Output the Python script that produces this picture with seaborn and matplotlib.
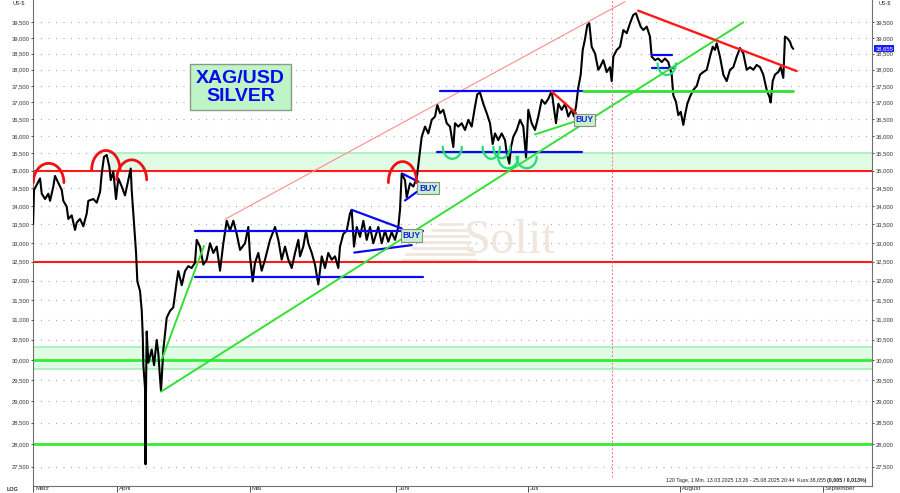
import numpy as np
import pandas as pd
import matplotlib
matplotlib.use('Agg')
import matplotlib.pyplot as plt
import seaborn as sns
from matplotlib.ticker import FixedLocator, NullLocator, FuncFormatter
from matplotlib.transforms import ScaledTranslation, blended_transform_factory

# Handelstage seit 13.03.2025 und Kurs in US-$ (1-Min-Chart)
tage = [0.0, 0.15, 0.57, 1.08, 1.34, 1.85, 2.35, 2.62, 3.12, 3.38, 3.89, 4.42, 4.66, 5.18, 5.43, 5.95,
        6.46, 6.72, 7.23, 7.74, 8.26, 8.51, 9.28, 9.80, 10.31, 10.57, 10.92, 11.34, 11.74, 11.95, 12.35,
        12.77, 13.12, 13.65, 14.15, 14.66, 15.03, 15.18, 15.54, 15.85, 16.05, 16.46, 16.72, 16.88, 16.97,
        17.23, 17.31, 17.37, 17.49, 17.74, 18.26, 18.62, 19.03, 19.28, 19.54, 19.69, 20.05, 20.57, 21.08,
        21.58, 22.11, 22.35, 22.88, 23.38, 23.89, 24.40, 24.92, 25.18, 25.69, 26.20, 26.72, 27.23, 27.74,
        28.26, 28.77, 29.28, 29.80, 30.31, 30.82, 31.34, 31.85, 32.62, 33.12, 33.38, 33.80, 34.15, 34.66,
        35.18, 35.69, 36.46, 37.23, 37.74, 38.26, 38.77, 39.28, 39.80, 40.31, 40.82, 41.08, 41.58, 42.00,
        42.35, 42.88, 43.38, 43.89, 44.42, 44.92, 45.43, 45.95, 46.46, 46.97, 47.23, 47.74, 48.26, 48.77,
        49.03, 49.38, 49.80, 50.31, 50.82, 51.34, 51.85, 52.35, 53.12, 53.65, 54.15, 54.66, 55.18, 55.69,
        56.20, 56.46, 56.72, 57.23, 57.49, 58.00, 58.51, 59.03, 59.54, 59.80, 60.31, 60.82, 61.34, 61.85,
        62.20, 62.62, 63.12, 63.65, 64.15, 64.66, 64.92, 65.43, 65.95, 66.46, 66.97, 67.49, 68.00, 68.35,
        68.77, 69.28, 69.80, 70.31, 70.72, 71.08, 71.58, 72.11, 72.62, 72.88, 73.28, 73.54, 73.89, 74.42,
        74.92, 75.43, 75.85, 76.20, 76.72, 77.23, 77.74, 78.26, 78.77, 79.28, 79.80, 80.05, 80.46, 80.82,
        81.34, 81.85, 82.35, 82.88, 83.23, 83.54, 83.89, 84.26, 84.57, 84.92, 85.28, 85.58, 85.95, 86.46,
        86.97, 87.23, 87.74, 88.26, 88.77, 89.03, 89.28, 89.80, 90.31, 90.82, 91.34, 91.85, 92.35, 92.77,
        93.12, 93.49, 93.89, 94.42, 94.92, 95.18, 95.69, 96.20, 96.72, 97.23, 97.74, 98.26, 98.51, 98.92,
        99.28, 99.65, 100.05, 100.31, 100.66, 101.08, 101.58, 102.11, 102.62, 103.12, 103.65, 104.15,
        104.57, 104.92, 105.18, 105.69, 106.20, 106.72, 107.23, 107.74, 108.26, 108.77, 109.28, 109.80,
        110.31, 110.82, 111.34, 111.85, 112.35, 112.88, 113.28, 113.49, 113.80, 114.15, 114.66, 115.03,
        115.43, 115.69, 116.05, 116.46, 116.72, 116.97]
kurs = [33.52, 34.45, 34.60, 34.78, 34.35, 34.20, 34.35, 34.15, 34.55, 34.85, 34.65, 34.45, 34.15, 33.99,
        33.65, 33.75, 33.35, 33.55, 33.65, 33.45, 33.80, 34.15, 34.20, 34.10, 34.40, 34.92, 35.40, 35.45,
        35.11, 34.73, 34.97, 34.20, 34.78, 34.55, 34.30, 34.73, 35.06, 34.45, 33.53, 32.74, 31.98, 31.73,
        31.24, 30.61, 29.88, 29.32, 27.55, 29.10, 30.70, 29.93, 30.25, 29.87, 30.49, 30.15, 29.55, 29.25,
        30.25, 31.05, 31.22, 31.31, 31.98, 32.25, 31.88, 32.25, 32.38, 32.33, 32.47, 33.08, 32.90, 32.42,
        32.55, 32.99, 32.73, 32.90, 32.26, 32.99, 33.60, 33.33, 33.60, 33.24, 32.81, 32.99, 33.43, 32.64,
        31.98, 32.47, 32.73, 32.26, 32.55, 33.08, 33.43, 33.08, 32.55, 32.90, 32.55, 32.33, 32.73, 33.08,
        32.64, 32.90, 33.33, 32.99, 32.73, 32.42, 31.90, 32.64, 32.33, 32.73, 32.55, 32.64, 32.33, 32.90,
        33.24, 33.33, 33.80, 33.90, 32.90, 33.43, 33.16, 33.60, 33.08, 33.43, 32.99, 33.43, 32.99, 33.33,
        33.03, 33.29, 33.08, 33.43, 33.90, 34.92, 34.73, 34.25, 34.64, 34.55, 34.78, 35.58, 35.98, 36.28,
        36.08, 36.48, 36.58, 36.93, 36.68, 36.78, 36.38, 36.28, 35.68, 36.38, 36.28, 36.38, 36.18, 36.48,
        36.28, 36.88, 37.25, 37.30, 36.96, 36.68, 36.38, 35.77, 36.08, 35.88, 36.08, 35.88, 35.50, 35.20,
        35.68, 35.98, 36.18, 36.48, 36.28, 35.38, 36.78, 36.38, 36.18, 36.58, 37.08, 36.96, 37.11, 37.35,
        36.96, 36.38, 36.96, 36.78, 36.96, 36.58, 36.78, 36.58, 36.88, 37.45, 37.85, 38.62, 38.96, 39.41,
        39.47, 38.72, 38.51, 38.00, 38.08, 38.30, 37.93, 38.08, 37.65, 38.41, 38.62, 38.72, 39.25, 39.15,
        39.47, 39.74, 39.79, 39.57, 39.36, 39.25, 39.36, 39.04, 38.41, 38.30, 38.35, 38.24, 38.35, 38.24,
        37.85, 37.22, 37.02, 36.62, 36.72, 36.33, 36.62, 36.96, 37.18, 37.38, 37.50, 37.85, 37.93, 38.00,
        38.41, 38.72, 38.62, 38.83, 38.41, 37.85, 37.65, 38.00, 38.08, 38.41, 38.68, 38.51, 38.00, 38.08,
        38.00, 38.15, 38.08, 37.85, 37.38, 37.18, 37.00, 37.65, 37.85, 37.93, 38.08, 37.75, 39.04, 38.99,
        38.88, 38.72, 38.655]

monat_pos = [0, 12.97, 33.34, 55.89, 76.11, 99.58, 121.54]
monat_namen = ['März', 'April', 'Mai', 'Juni', 'Juli', 'August', 'September']
kurs_ticks = np.arange(27.5, 39.51, 0.5)

rote_level = [35.0, 32.5]
gruene_level = [30.0, 28.0]

# Linien: (x0, y0, x1, y1)
blaue_linien = [(24.9, 33.33, 60.0, 33.33), (24.9, 32.10, 60.0, 32.10),
                (49.03, 33.90, 56.72, 33.39), (49.43, 32.74, 58.26, 32.94),
                (56.88, 34.91, 59.28, 34.69), (57.23, 34.16, 59.12, 34.41),
                (62.6, 37.36, 84.66, 37.36), (62.1, 35.54, 84.4, 35.54),
                (95.18, 38.46, 98.26, 38.46), (95.18, 38.07, 98.5, 38.07)]
gruene_linien = [(19.89, 30.04, 26.31, 32.92), (19.69, 29.23, 109.28, 39.5),
                 (77.23, 36.05, 84.15, 36.48), (84.66, 37.36, 116.9, 37.36)]
rote_linien = [(79.8, 37.33, 83.54, 36.68), (93.12, 39.875, 117.49, 37.96)]
kanal_linie = (29.54, 33.64, 91.08, 40.17)

# Bögen: (mitte, halbe breite, kurs an den enden, kurs am scheitel)
rote_boegen = [(2.4, 2.35, 34.66, 35.21), (11.2, 2.18, 35.02, 35.58),
               (15.18, 2.3, 34.74, 35.31), (56.85, 2.18, 34.66, 35.26)]
gruene_boegen = [(64.5, 1.46, 35.69, 35.34), (70.5, 1.33, 35.69, 35.34),
                 (72.1, 1.28, 35.69, 35.36), (73.1, 1.54, 35.40, 35.07),
                 (75.95, 1.54, 35.40, 35.07), (97.5, 1.41, 38.2, 37.84)]

buy_signale = [(58.2, 33.2), (60.77, 34.5), (84.85, 36.48)]
oberes_band = (11.85, 35.0, 35.51)
unteres_band = (29.78, 30.32)
markierung_tag = 89.12
letzter_kurs = 38.655

sns.set_theme(style='white')
plt.rcParams['font.family'] = ['Liberation Sans', 'DejaVu Sans']

fig = plt.figure(figsize=(9, 4.93), dpi=100)
ax = fig.add_axes([0.0367, 0.0148, 0.9322, 0.9852])
ax.set_yscale('log')
xmax = 129.08

# Bänder und Level
ax.axhspan(unteres_band[0], unteres_band[1], color='#e0fce6', zorder=1, lw=0)
for y in unteres_band:
    ax.axhline(y, color='#a6efb6', lw=1.2, zorder=1.2)
ax.fill_between([oberes_band[0], xmax], oberes_band[1], oberes_band[2], color='#e0fce6', zorder=1, lw=0)
ax.plot([oberes_band[0], xmax], [oberes_band[2], oberes_band[2]], color='#a6efb6', lw=1.2, zorder=1.2)
for y in rote_level:
    ax.axhline(y, color='#ff1a1a', lw=1.5, zorder=2)
for y in gruene_level:
    ax.axhline(y, color='#33ee33', lw=2, zorder=2)
ax.plot([markierung_tag, markierung_tag], [27.27, 41], color='#ff7070', lw=0.7,
        linestyle=(0, (2, 2)), zorder=2)

df = pd.DataFrame({'tag': tage, 'kurs': kurs})
sns.lineplot(data=df, x='tag', y='kurs', color='black', lw=1.5, ax=ax,
             estimator=None, sort=False, zorder=3)

x0, y0, x1, y1 = kanal_linie
ax.plot([x0, x1], [y0, y1], color='#ff8c8c', lw=0.8, zorder=4)
for x0, y0, x1, y1 in blaue_linien:
    ax.plot([x0, x1], [y0, y1], color='#0a0aee', lw=1.6, zorder=4)
for i, (x0, y0, x1, y1) in enumerate(gruene_linien):
    ax.plot([x0, x1], [y0, y1], color='#33e033', lw=2.0 if i == 3 else 1.4, zorder=4)
for x0, y0, x1, y1 in rote_linien:
    ax.plot([x0, x1], [y0, y1], color='#ff1a1a', lw=1.7, zorder=4)

def bogen(cx, hw, y_ende, y_mitte, farbe, lw):
    t = np.linspace(0, np.pi, 40)
    xs = cx + hw * np.cos(t)
    ys = y_ende * (y_mitte / y_ende) ** np.sin(t)
    ax.plot(xs, ys, color=farbe, lw=lw, zorder=4, solid_capstyle='round')

for b in rote_boegen:
    bogen(*b, '#ee1111', 2.0)
for b in gruene_boegen:
    bogen(*b, '#22dd77', 1.6)

for x, y in buy_signale:
    ax.text(x, y, 'BUY', ha='center', va='center', fontsize=6.2, fontweight='bold',
            color='#1a1aee', zorder=5,
            bbox=dict(boxstyle='square,pad=0.18', fc='#c6f2c6', ec='#8c8c8c', lw=0.8))

# Achsen
ax.set_xlim(0, xmax)
ax.set_ylim(27.074, 40.224)
ax.yaxis.set_major_locator(FixedLocator(kurs_ticks))
ax.yaxis.set_minor_locator(NullLocator())
ax.yaxis.set_major_formatter(FuncFormatter(lambda v, p: f'{v:.3f}'.replace('.', ',')))
ax.tick_params(axis='y', which='major', left=True, right=True, labelleft=True, labelright=True,
               labelsize=4.2, length=1.5, width=0.6, pad=1.2, colors='#333333')
ax.set_xticks(monat_pos)
ax.set_xticklabels(monat_namen)
ax.tick_params(axis='x', bottom=True, length=4.3, width=0.6, pad=-4.3, labelsize=4.5, colors='#333333')
for lab in ax.get_xticklabels():
    lab.set_ha('left')
    lab.set_transform(lab.get_transform() + ScaledTranslation(1.5 / 72, 0, fig.dpi_scale_trans))
ax.set_xlabel('')
ax.set_ylabel('')
ax.grid(axis='y', linestyle=(0, (0.8, 5.2)), color='#a8a8a8', lw=0.9, dash_capstyle='butt')
ax.grid(axis='x', visible=False)
ax.spines['top'].set_visible(False)
for s in ['left', 'right', 'bottom']:
    ax.spines[s].set_color('#707070')
    ax.spines[s].set_linewidth(0.8)

# Texte
ax.text(0.2476, 0.8205, 'XAG/USD\nSILVER', transform=ax.transAxes, ha='center', va='center',
        fontsize=14, fontweight='bold', color='#0a0aee', linespacing=1.05, zorder=6,
        bbox=dict(boxstyle='square,pad=0.3', fc='#bff5c6', ec='#8a9a8a', lw=1))
ax.text(0.5685, 0.5038, 'Solit', transform=ax.transAxes, ha='center', va='center',
        fontsize=35, family='Liberation Serif', color='#efe7dd', zorder=0.8)
logo_y = [224, 230, 236, 242, 248, 254, 260]
logo_x0 = [440, 432, 424, 418, 412, 406, 402]
logo_x1 = [462, 466, 468, 470, 472, 474, 476]
for py, px0, px1 in zip(logo_y, logo_x0, logo_x1):
    ax.plot([(px0 - 33) / 839, (px1 - 33) / 839], [(485.7 - py) / 485.7] * 2,
            transform=ax.transAxes, color='#efe7dd', lw=2, zorder=0.8)

ax.text(1.004, letzter_kurs, f'{letzter_kurs:.3f}'.replace('.', ','),
        transform=blended_transform_factory(ax.transAxes, ax.transData),
        ha='left', va='center', fontsize=4.2, color='white', clip_on=False, zorder=6,
        bbox=dict(boxstyle='square,pad=0.15', fc='#1a1aff', ec='none'))

fett = ax.text(0.9933, 0.0103, '(0,005 / 0,013%)', transform=ax.transAxes, ha='right',
               va='center', fontsize=3.8, fontweight='bold', color='#222222')
ax.annotate('120 Tage, 1 Min. 13.03.2025 13:26 - 25.08.2025 20:44  Kurs:38,655 ',
            xy=(0, 0.5), xycoords=fett, ha='right', va='center', fontsize=3.8, color='#222222')

fig.text(0.0211, 0.9939, 'US-$', ha='center', va='center', fontsize=4, color='#333333')
fig.text(0.9833, 0.9939, 'US-$', ha='center', va='center', fontsize=4, color='#333333')
fig.text(0.0144, 0.008, 'LOG', ha='center', va='center', fontsize=4, fontweight='bold', color='#333333')

fig.savefig('out.png', dpi=100)
